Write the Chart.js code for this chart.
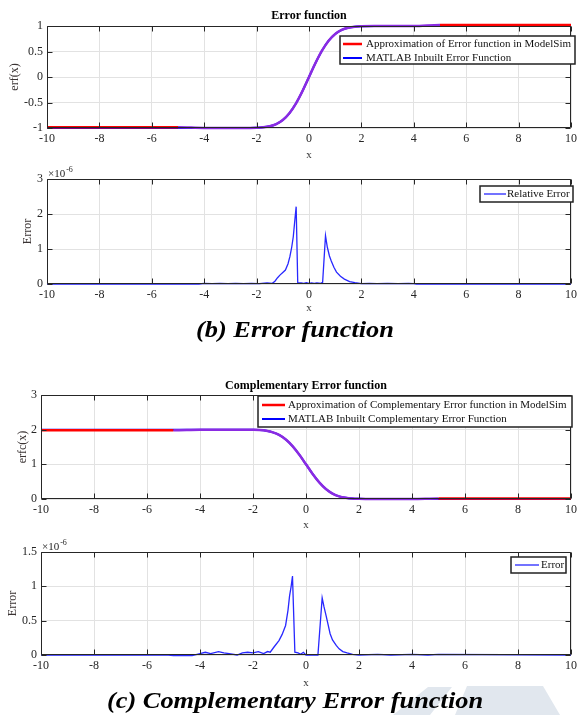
<!DOCTYPE html>
<html>
<head>
<meta charset="utf-8">
<script src="https://cdn.jsdelivr.net/npm/chart.js@4.4.1/dist/chart.umd.min.js"></script>
<style>
  body { margin: 0; background: #fff; }
  #page { position: relative; width: 581px; height: 715px; overflow: hidden; }
  canvas { position: absolute; left: 0; }
  .caption { position: absolute; left: 0; width: 590px; text-align: center; font-family: 'Liberation Serif', serif;
             font-weight: bold; font-style: italic; line-height: 1; color: #000; white-space: nowrap;
             transform: scaleX(1.1); transform-origin: 295px 0; }
  .mark { position: absolute; left: 0; top: 0; width: 581px; height: 715px; background: #e1e7ee; }
</style>
</head>
<body>
<div id="page">
  <div class="mark" style="clip-path: polygon(393px 715px, 428px 687px, 452px 687px, 430px 715px)"></div>
  <div class="mark" style="clip-path: polygon(455px 715px, 467px 686px, 543px 686px, 560px 715px)"></div>
  <canvas id="erfChart" width="581" height="165" style="top:0px"></canvas>
  <canvas id="erfErrChart" width="581" height="155" style="top:165px"></canvas>
  <div class="caption" style="top:317px; font-size:24px">(b) Error function</div>
  <canvas id="erfcChart" width="581" height="175" style="top:360px"></canvas>
  <canvas id="erfcErrChart" width="581" height="160" style="top:535px"></canvas>
  <div class="caption" style="top:688px; font-size:24px">(c) Complementary Error function</div>
</div>
<script>
// values
const erfX = [-10, -5, -4, -3, -2.5, -2, -1.75, -1.5, -1.25, -1, -0.75, -0.5, -0.25, 0,
              0.25, 0.5, 0.75, 1, 1.25, 1.5, 1.75, 2, 2.5, 3, 4, 5, 10]
const modelSimErf = [-0.985, -0.985, -1, -1, -1, -0.995, -0.987, -0.966, -0.923, -0.843, -0.711, -0.52, -0.276, 0,
                     0.276, 0.52, 0.711, 0.843, 0.923, 0.966, 0.987, 0.995, 1, 1, 1, 1.02, 1.02]
const matlabErf = [-1, -1, -1, -1, -1, -0.995, -0.987, -0.966, -0.923, -0.843, -0.711, -0.52, -0.276, 0,
                   0.276, 0.52, 0.711, 0.843, 0.923, 0.966, 0.987, 0.995, 1, 1, 1, 1, 1]
const modelSimErfc = [1.985, 1.985, 2, 2, 2, 1.995, 1.987, 1.966, 1.923, 1.843, 1.711, 1.52, 1.276, 1,
                      0.724, 0.48, 0.289, 0.157, 0.077, 0.034, 0.013, 0.005, 0, 0, 0, 0.015, 0.015]
const matlabErfc = [2, 2, 2, 2, 2, 1.995, 1.987, 1.966, 1.923, 1.843, 1.711, 1.52, 1.276, 1,
                    0.724, 0.48, 0.289, 0.157, 0.077, 0.034, 0.013, 0.005, 0, 0, 0, 0, 0]

// errors in units of 1e-6
const relErrX = [-10, -4.2, -4, -3.7, -3.4, -3.1, -2.8, -2.5, -2.2, -1.9, -1.6, -1.4, -1.3, -1.2, -1.1, -1, -0.9,
                 -0.8, -0.73, -0.66, -0.6, -0.55, -0.49, -0.43, -0.3, -0.2, -0.1, 0, 0.1, 0.2, 0.3, 0.45, 0.52,
                 0.63, 0.7, 0.78, 0.85, 0.95, 1.05, 1.2, 1.35, 1.55, 1.75, 2, 2.3, 2.6, 3, 3.4, 3.8, 4, 4.1, 10]
const relErrY = [0, 0, 0.02, 0.01, 0.02, 0.01, 0.02, 0.01, 0.02, 0.01, 0.03, 0.02, 0.08, 0.18, 0.26, 0.33, 0.4,
                 0.58, 0.78, 1.05, 1.35, 1.75, 2.21, 0.04, 0.03, 0.02, 0.04, 0.02, 0.03, 0.02, 0.03, 0.02, 0.05,
                 1.38, 1.05, 0.8, 0.66, 0.48, 0.34, 0.22, 0.14, 0.07, 0.04, 0.01, 0.02, 0.01, 0.02, 0.01, 0.02, 0.01, 0, 0]
const erfcErrX = [-10, -5.2, -5, -4.3, -4, -3.8, -3.6, -3.3, -3.1, -2.9, -2.6, -2.4, -2.2, -2, -1.8, -1.6, -1.45,
                  -1.35, -1.2, -1.02, -0.9, -0.77, -0.68, -0.62, -0.56, -0.51, -0.42, -0.3, -0.2, -0.1, 0, 0.2,
                  0.45, 0.61, 0.68, 0.76, 0.84, 0.91, 1, 1.14, 1.25, 1.39, 1.55, 1.76, 2, 2.7, 3.2, 4, 4.6, 5, 10]
const erfcErrY = [0, 0, -0.01, -0.01, 0.02, 0.04, 0.02, 0.05, 0.03, 0.02, 0, 0.03, 0.04, 0.03, 0.05, 0.02, 0.05,
                  0.04, 0.12, 0.21, 0.3, 0.43, 0.65, 0.86, 1, 1.15, 0.04, 0.03, 0.01, 0.04, 0, 0,
                  0, 0.83, 0.7, 0.57, 0.43, 0.31, 0.22, 0.14, 0.09, 0.05, 0.03, 0.01, 0, 0.01, 0, 0.01, 0, 0.01, 0]

const serif = 'Liberation Serif'
const points = (xs, ys) => xs.map((x, i) => ({x: x, y: ys[i]}))
const purpleMid = c => (c.p0.parsed.x >= -5 && c.p1.parsed.x <= 5) ? '#8a2be2' : undefined

// MATLAB-like frame, inner ticks, title, exponent and boxed legend
const matlabAxes = {
  id: 'matlabAxes',
  afterDraw(chart, args, opts) {
    const {ctx, chartArea: a, scales} = chart
    const L = Math.round(a.left) + 0.5, R = Math.round(a.right) - 0.5
    const T = Math.round(a.top) + 0.5, B = Math.round(a.bottom) - 0.5
    ctx.save()
    ctx.strokeStyle = '#262626'
    ctx.lineWidth = 1
    ctx.beginPath()
    scales.x.ticks.forEach(t => {
      const p = Math.round(scales.x.getPixelForValue(t.value)) + 0.5
      ctx.moveTo(p, B); ctx.lineTo(p, B - 5)
      ctx.moveTo(p, T); ctx.lineTo(p, T + 5)
    })
    scales.y.ticks.forEach(t => {
      const p = Math.round(scales.y.getPixelForValue(t.value)) + 0.5
      ctx.moveTo(L, p); ctx.lineTo(L + 5, p)
      ctx.moveTo(R, p); ctx.lineTo(R - 5, p)
    })
    ctx.rect(L, T, R - L, B - T)
    ctx.stroke()

    ctx.fillStyle = '#000'
    if (opts.title) {
      ctx.font = `bold 12px "${serif}"`
      ctx.textAlign = 'center'
      ctx.textBaseline = 'alphabetic'
      ctx.fillText(opts.title, (a.left + a.right) / 2, a.top - opts.titleGap)
    }
    if (opts.exponent) {
      ctx.fillStyle = '#262626'
      ctx.font = `11px "${serif}"`
      ctx.textAlign = 'left'
      ctx.textBaseline = 'alphabetic'
      ctx.fillText('×10', a.left + 1, a.top - 2)
      const w = ctx.measureText('×10').width
      ctx.font = `8px "${serif}"`
      ctx.fillText(opts.exponent, a.left + 2 + w, a.top - 7)
    }
    const lg = opts.legend
    if (lg) {
      ctx.fillStyle = '#fff'
      ctx.fillRect(lg.x, lg.y, lg.w, lg.h)
      ctx.strokeStyle = '#222'
      ctx.lineWidth = 1.5
      ctx.strokeRect(lg.x, lg.y, lg.w, lg.h)
      ctx.font = `11px "${serif}"`
      ctx.textAlign = 'left'
      ctx.textBaseline = 'middle'
      chart.data.datasets.forEach((ds, i) => {
        const y = lg.rows[i]
        ctx.strokeStyle = ds.borderColor
        ctx.lineWidth = ds.borderWidth
        ctx.beginPath()
        ctx.moveTo(lg.line[0], y)
        ctx.lineTo(lg.line[1], y)
        ctx.stroke()
        ctx.fillStyle = '#111'
        ctx.fillText(ds.label, lg.textX, y + 0.5)
      })
    }
    ctx.restore()
  }
}

function axes(o) {
  const tickFont = {family: serif, size: 12}
  return {
    x: {
      type: 'linear', min: -10, max: 10,
      ticks: {stepSize: 2, autoSkip: false, maxRotation: 0, padding: 4, color: '#262626', font: tickFont},
      grid: {color: '#e2e2e2', drawTicks: false},
      border: {display: false},
      title: {display: true, text: 'x', color: '#333', font: {family: serif, size: 11}, padding: {top: 0, bottom: o.xPad}},
      afterFit: s => { s.height = o.xHeight }
    },
    y: {
      min: o.yMin, max: o.yMax,
      ticks: {stepSize: o.yStep, padding: 4, color: '#262626', font: tickFont, callback: v => String(v)},
      grid: {color: '#e2e2e2', drawTicks: false},
      border: {display: false},
      title: {display: true, text: o.yTitle, color: '#3a3333', font: {family: serif, size: 12}, padding: {top: o.yPad, bottom: 0}},
      afterFit: s => { s.width = o.yWidth }
    }
  }
}

function baseOptions(o, plugin) {
  return {
    responsive: false,
    animation: false,
    devicePixelRatio: 1,
    events: [],
    layout: {padding: {top: o.padTop, right: o.padRight, left: 0, bottom: 0}},
    elements: {point: {radius: 0}},
    scales: axes(o),
    plugins: {legend: {display: false}, tooltip: {enabled: false}, matlabAxes: plugin}
  }
}

new Chart(document.getElementById('erfChart'), {
  type: 'line',
  data: {
    datasets: [{
      label: 'Approximation of Error function in ModelSim',
      data: points(erfX, modelSimErf),
      borderColor: '#ff0000', borderWidth: 2.5, cubicInterpolationMode: 'monotone', clip: 4,
      segment: {borderColor: purpleMid}
    }, {
      label: 'MATLAB Inbuilt Error Function',
      data: points(erfX, matlabErf),
      borderColor: '#0000ff', borderWidth: 2, cubicInterpolationMode: 'monotone', clip: 4
    }]
  },
  options: baseOptions({padTop: 26, padRight: 6, yWidth: 47, xHeight: 37, xPad: 3, yPad: 8,
                        yMin: -1, yMax: 1, yStep: 0.5, yTitle: 'erf(x)'},
    {title: 'Error function', titleGap: 7,
     legend: {x: 340, y: 36, w: 235, h: 28, rows: [44, 58], line: [343, 362], textX: 366}}),
  plugins: [matlabAxes]
})

new Chart(document.getElementById('erfErrChart'), {
  type: 'line',
  data: {
    datasets: [{
      label: 'Relative Error',
      data: points(relErrX, relErrY),
      borderColor: '#2828ff', borderWidth: 1.3, tension: 0, clip: 3
    }]
  },
  options: baseOptions({padTop: 14, padRight: 6, yWidth: 47, xHeight: 36, xPad: 5, yPad: 21,
                        yMin: 0, yMax: 3, yStep: 1, yTitle: 'Error'},
    {exponent: '-6',
     legend: {x: 480, y: 21, w: 93, h: 16, rows: [29], line: [484, 506], textX: 507}}),
  plugins: [matlabAxes]
})

new Chart(document.getElementById('erfcChart'), {
  type: 'line',
  data: {
    datasets: [{
      label: 'Approximation of Complementary Error function in ModelSim',
      data: points(erfX, modelSimErfc),
      borderColor: '#ff0000', borderWidth: 2.5, cubicInterpolationMode: 'monotone', clip: 4,
      segment: {borderColor: purpleMid}
    }, {
      label: 'MATLAB Inbuilt Complementary Error Function',
      data: points(erfX, matlabErfc),
      borderColor: '#0000ff', borderWidth: 2, cubicInterpolationMode: 'monotone', clip: 4
    }]
  },
  options: baseOptions({padTop: 35, padRight: 9, yWidth: 41, xHeight: 36, xPad: 3, yPad: 16,
                        yMin: 0, yMax: 3, yStep: 1, yTitle: 'erfc(x)'},
    {title: 'Complementary Error function', titleGap: 6,
     legend: {x: 258, y: 36, w: 314, h: 31, rows: [45, 59], line: [262, 285], textX: 288}}),
  plugins: [matlabAxes]
})

new Chart(document.getElementById('erfcErrChart'), {
  type: 'line',
  data: {
    datasets: [{
      label: 'Error',
      data: points(erfcErrX, erfcErrY),
      borderColor: '#2828ff', borderWidth: 1.3, tension: 0, clip: 3
    }]
  },
  options: baseOptions({padTop: 17, padRight: 9, yWidth: 41, xHeight: 40, xPad: 5, yPad: 6,
                        yMin: 0, yMax: 1.5, yStep: 0.5, yTitle: 'Error'},
    {exponent: '-6',
     legend: {x: 511, y: 22, w: 55, h: 16, rows: [30], line: [515, 539], textX: 541}}),
  plugins: [matlabAxes]
})
</script>
</body>
</html>
